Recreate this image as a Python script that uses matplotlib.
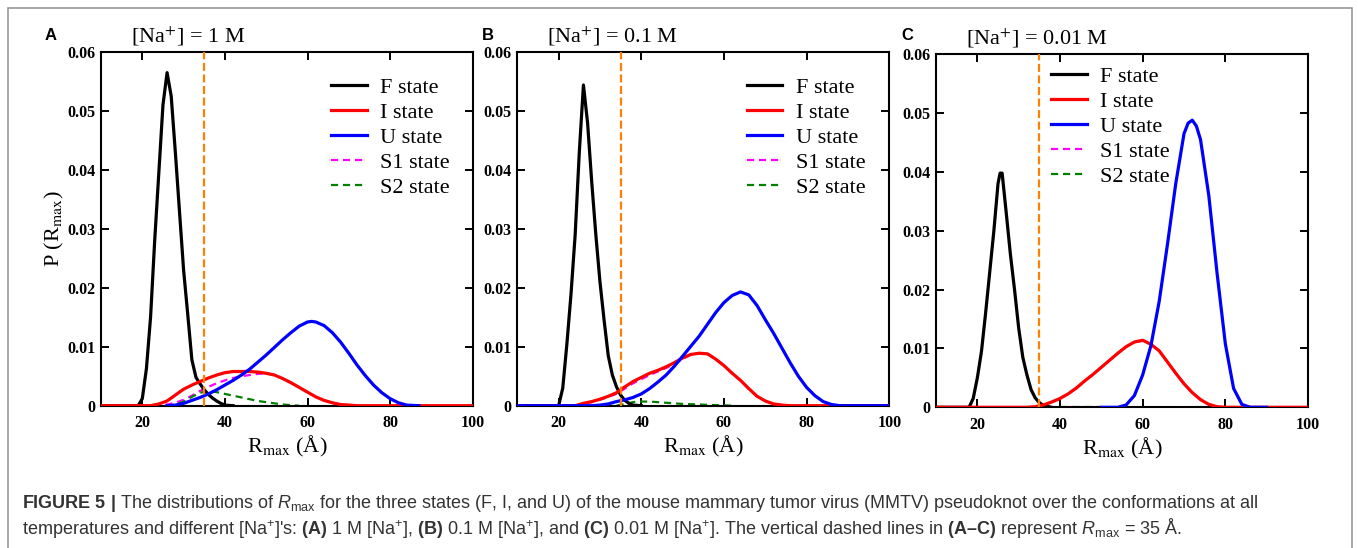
import matplotlib
matplotlib.use("Agg")
import matplotlib.pyplot as plt
from matplotlib.patches import Rectangle

plt.rcParams['font.family'] = ['Liberation Serif', 'DejaVu Serif']
plt.rcParams['mathtext.fontset'] = 'stix'
plt.rcParams['mathtext.rm'] = 'Liberation Sans'
plt.rcParams['mathtext.it'] = 'Liberation Sans:italic'
plt.rcParams['mathtext.bf'] = 'Liberation Sans:bold'

# ---- P(Rmax) distributions, [Na+] = 1 M ----
f_1M_x = [10, 19, 20, 21, 22, 23, 24, 25, 26, 27, 28, 29, 30, 31, 32, 33, 34, 35, 36, 37, 38, 39, 40, 42]
f_1M_y = [0, 0, 0.0012, 0.0063, 0.015, 0.028, 0.0395, 0.051, 0.0565, 0.0525, 0.043, 0.033, 0.023, 0.0155,
          0.0078, 0.0048, 0.0037, 0.0027, 0.0019, 0.0013, 0.0008, 0.0004, 0.0001, 0]
i_1M_x = [10, 22, 24, 26, 28, 30, 32, 34, 36, 38, 40, 42, 44, 46, 48, 50, 52, 54, 56, 58, 60, 62, 64, 66, 68, 70, 72, 100]
i_1M_y = [0, 0, 0.0003, 0.0008, 0.0018, 0.0028, 0.0035, 0.0041, 0.0047, 0.0052, 0.0056, 0.0058, 0.0058, 0.0058,
          0.0057, 0.0055, 0.0052, 0.0046, 0.0039, 0.0031, 0.0023, 0.0015, 0.0009, 0.0005, 0.0002, 0.0001, 0, 0]
u_1M_x = [26, 28, 30, 32, 34, 36, 38, 40, 42, 44, 46, 48, 50, 52, 54, 56, 58, 60, 61, 62, 64, 66, 68, 70, 72, 74,
          76, 78, 80, 82, 84, 87]
u_1M_y = [0, 0.0001, 0.0004, 0.0009, 0.0014, 0.0020, 0.0027, 0.0035, 0.0043, 0.0052, 0.0062, 0.0074, 0.0086,
          0.0099, 0.0112, 0.0124, 0.0135, 0.0142, 0.0143, 0.0142, 0.0136, 0.0124, 0.0108, 0.0089, 0.0069, 0.0051,
          0.0035, 0.0022, 0.0012, 0.0005, 0.0001, 0]
s1_1M_x = [14, 24, 26, 28, 30, 32, 34, 36, 38, 40, 42, 44, 46, 48, 50, 52, 54, 56, 58, 60, 62, 64, 66, 68, 70, 72]
s1_1M_y = [0, 0, 0.0002, 0.0005, 0.0010, 0.0017, 0.0025, 0.0032, 0.0038, 0.0043, 0.0047, 0.0050, 0.0052, 0.0054,
           0.0055, 0.0052, 0.0046, 0.0039, 0.0031, 0.0023, 0.0015, 0.0009, 0.0005, 0.0002, 0.0001, 0]
s2_1M_x = [26, 28, 30, 32, 34, 36, 38, 40, 42, 44, 46, 48, 50, 52, 54, 56, 58]
s2_1M_y = [0, 0.0002, 0.0007, 0.0015, 0.0022, 0.0025, 0.0023, 0.0020, 0.0017, 0.0014, 0.0011, 0.0008, 0.0006,
           0.0004, 0.0002, 0.0001, 0]

# ---- [Na+] = 0.1 M ----
f_01M_x = [10, 20, 21, 22, 23, 24, 25, 26, 27, 28, 29, 30, 31, 32, 33, 34, 35, 36, 37, 38, 40]
f_01M_y = [0, 0, 0.003, 0.0105, 0.019, 0.029, 0.043, 0.0544, 0.048, 0.038, 0.029, 0.021, 0.0145, 0.0085, 0.0052,
           0.0032, 0.0018, 0.0009, 0.0004, 0.0001, 0]
i_01M_x = [10, 24, 26, 28, 30, 32, 34, 36, 38, 40, 42, 44, 46, 48, 50, 52, 54, 56, 58, 60, 62, 64, 66, 68, 70, 72,
           74, 76, 100]
i_01M_y = [0, 0, 0.0004, 0.0007, 0.0011, 0.0016, 0.0022, 0.0032, 0.0041, 0.0048, 0.0055, 0.0060, 0.0066, 0.0073,
           0.0081, 0.0087, 0.0089, 0.0088, 0.0079, 0.0068, 0.0055, 0.0043, 0.0029, 0.0016, 0.0008, 0.0003, 0.0001,
           0, 0]
u_01M_x = [10, 28, 30, 32, 34, 36, 38, 40, 42, 44, 46, 48, 50, 52, 54, 56, 58, 60, 62, 64, 66, 68, 70, 72, 74, 76,
           78, 80, 82, 84, 86, 88, 100]
u_01M_y = [0, 0, 0.0001, 0.0003, 0.0007, 0.0010, 0.0014, 0.0020, 0.0029, 0.0040, 0.0052, 0.0067, 0.0084, 0.0101,
           0.0118, 0.0138, 0.0158, 0.0175, 0.0187, 0.0193, 0.0188, 0.0170, 0.0146, 0.0123, 0.0098, 0.0073, 0.0050,
           0.0031, 0.0017, 0.0007, 0.0002, 0, 0]
s1_01M_x = [24, 28, 30, 32, 34, 36, 38, 40, 42, 44, 46, 48, 50, 52, 54, 56, 58, 60, 62, 64, 66, 68, 70, 72, 74, 76]
s1_01M_y = [0, 0.0006, 0.0010, 0.0015, 0.0020, 0.0029, 0.0038, 0.0045, 0.0052, 0.0058, 0.0064, 0.0071, 0.0079,
            0.0087, 0.0089, 0.0088, 0.0079, 0.0068, 0.0055, 0.0043, 0.0029, 0.0016, 0.0008, 0.0003, 0.0001, 0]
s2_01M_x = [34, 36, 38, 40, 42, 44, 46, 48, 50, 54, 58, 62]
s2_01M_y = [0, 0.0003, 0.0006, 0.0007, 0.0007, 0.0006, 0.0005, 0.0004, 0.0003, 0.0002, 0.0001, 0]

# ---- [Na+] = 0.01 M ----
f_001M_x = [10, 18, 19, 20, 21, 22, 23, 24, 25, 25.5, 26, 27, 28, 29, 30, 31, 32, 33, 34, 35, 36, 38]
f_001M_y = [0, 0, 0.0015, 0.005, 0.0095, 0.016, 0.023, 0.030, 0.038, 0.0398, 0.0398, 0.033, 0.026, 0.020, 0.0135,
            0.0085, 0.0055, 0.003, 0.0016, 0.0008, 0.0003, 0]
i_001M_x = [10, 32, 34, 36, 38, 40, 42, 44, 46, 48, 50, 52, 54, 56, 58, 60, 62, 64, 66, 68, 70, 72, 74, 76, 78, 80, 100]
i_001M_y = [0, 0, 0.0001, 0.0004, 0.0009, 0.0015, 0.0023, 0.0033, 0.0045, 0.0056, 0.0068, 0.0080, 0.0092, 0.0103,
            0.0111, 0.0114, 0.0107, 0.0096, 0.0077, 0.0058, 0.0040, 0.0025, 0.0013, 0.0005, 0.0001, 0, 0]
u_001M_x = [50, 54, 56, 58, 60, 62, 64, 66, 68, 70, 71, 72, 73, 74, 76, 78, 80, 82, 84, 86, 90]
u_001M_y = [0, 0, 0.0004, 0.002, 0.0055, 0.0105, 0.018, 0.0277, 0.038, 0.0465, 0.0483, 0.0488, 0.0478, 0.0455,
            0.036, 0.0228, 0.0108, 0.0032, 0.0005, 0, 0]
s1_001M_x = [20, 32, 34, 36, 38, 40, 42, 44, 46, 48, 50, 52, 54, 56, 58, 60, 62, 64, 66, 68, 70, 72, 74, 76, 78, 80]
s1_001M_y = [0, 0, 0.0001, 0.0004, 0.0009, 0.0015, 0.0023, 0.0033, 0.0045, 0.0056, 0.0068, 0.0080, 0.0092, 0.0103,
             0.0111, 0.0113, 0.0107, 0.0096, 0.0077, 0.0058, 0.0040, 0.0025, 0.0013, 0.0005, 0.0001, 0]
s2_001M_x = [40, 50]
s2_001M_y = [0, 0]

panel_letters = ['A', 'B', 'C']
salt_titles = ['[Na$^{+}$] = 1 M', '[Na$^{+}$] = 0.1 M', '[Na$^{+}$] = 0.01 M']
state_labels = ['F state', 'I state', 'U state', 'S1 state', 'S2 state']
rmax_cut = 35

x_ticks = [20, 40, 60, 80, 100]
y_ticks = [0, 0.01, 0.02, 0.03, 0.04, 0.05, 0.06]
y_tick_labels = ['0', '0.01', '0.02', '0.03', '0.04', '0.05', '0.06']

panels = [
    [(f_1M_x, f_1M_y), (i_1M_x, i_1M_y), (u_1M_x, u_1M_y), (s1_1M_x, s1_1M_y), (s2_1M_x, s2_1M_y)],
    [(f_01M_x, f_01M_y), (i_01M_x, i_01M_y), (u_01M_x, u_01M_y), (s1_01M_x, s1_01M_y), (s2_01M_x, s2_01M_y)],
    [(f_001M_x, f_001M_y), (i_001M_x, i_001M_y), (u_001M_x, u_001M_y), (s1_001M_x, s1_001M_y),
     (s2_001M_x, s2_001M_y)],
]

# line style for each state: colour, dashed?, zorder
state_styles = [('black', False, 3), ('#ff0000', False, 3.5), ('#0000ff', False, 4),
                ('#ff00ff', True, 2), ('#008000', True, 2.1)]

W, H = 1358, 548
fig = plt.figure(figsize=(W / 100, H / 100), dpi=100)

# axes boxes in pixels: left, top, right, bottom
boxes = [(101, 52, 472.7, 405.7), (517.3, 52, 889.3, 405.7), (936, 54.3, 1308, 407.3)]
legend_anchor = [(0.62, 0.928), (0.617, 0.928), (0.309, 0.966)]
letter_pos = [(45, 35), (482, 35), (901, 35)]

for k, (l, t, r, b) in enumerate(boxes):
    ax = fig.add_axes([l / W, 1 - b / H, (r - l) / W, (b - t) / H])
    for (xs, ys), lab, (col, dashed, z) in zip(panels[k], state_labels, state_styles):
        if dashed:
            ax.plot(xs, ys, color=col, lw=1.6, ls=(0, (3.2, 2.2)), label=lab, zorder=z)
        else:
            ax.plot(xs, ys, color=col, lw=2.3, label=lab, zorder=z)
    ax.axvline(rmax_cut, color='#ff8000', lw=1.6, ls=(0, (3.6, 1.6)), zorder=5)

    ax.set_xlim(10, 100)
    ax.set_ylim(0, 0.06)
    ax.set_xticks(x_ticks)
    ax.set_yticks(y_ticks)
    ax.set_yticklabels(y_tick_labels)
    ax.tick_params(direction='in', length=5.5, width=1.4, top=True, right=True, labelsize=11.5)
    ax.tick_params(axis='x', pad=7)
    ax.tick_params(axis='y', pad=4)
    for lab in ax.get_xticklabels() + ax.get_yticklabels():
        lab.set_fontweight('bold')
    for sp in ax.spines.values():
        sp.set_linewidth(1.5)

    ax.set_xlabel('R$_{\\mathrm{max}}$ (Å)', fontsize=16, labelpad=2)
    if k == 0:
        ax.set_ylabel('P (R$_{\\mathrm{max}}$)', fontsize=16, labelpad=1)

    ax.text(0.08, 1.045, salt_titles[k], transform=ax.transAxes, fontsize=16, va='center', ha='left')

    ax.legend(loc='upper left', bbox_to_anchor=legend_anchor[k], frameon=False, fontsize=16,
              handlelength=1.6, handletextpad=0.6, labelspacing=0.2, borderpad=0, borderaxespad=0)

    fig.text(letter_pos[k][0] / W, 1 - letter_pos[k][1] / H, panel_letters[k], fontsize=12,
             fontweight='bold', family='Liberation Sans', va='center', ha='left')

# outer frame of the figure box
fig.patches.append(Rectangle((7.5 / W, -0.1), (1352 - 7.5) / W, 1.1 - 8 / H, transform=fig.transFigure,
                             fill=False, edgecolor='#9a9a9a', lw=1.2))

caption_1 = ('$\\mathbf{FIGURE\\ 5\\ |}$ The distributions of $\\mathit{R}_{\\mathrm{max}}$ for the three states '
             '(F, I, and U) of the mouse mammary tumor virus (MMTV) pseudoknot over the conformations at all')
caption_2 = ("temperatures and different [Na$^{+}$]'s: $\\mathbf{(A)}$ 1 M [Na$^{+}$], $\\mathbf{(B)}$ 0.1 M "
             "[Na$^{+}$], and $\\mathbf{(C)}$ 0.01 M [Na$^{+}$]. The vertical dashed lines in "
             "$\\mathbf{(A\u2013C)}$ represent $\\mathit{R}_{\\mathrm{max}}$ = 35 Å.")
for txt, yp in [(caption_1, 503), (caption_2, 528)]:
    fig.text(22 / W, 1 - yp / H, txt, fontsize=13, family='Liberation Sans', color='#333333',
             va='center', ha='left', math_fontfamily='custom')

fig.savefig('out.png', dpi=100)
